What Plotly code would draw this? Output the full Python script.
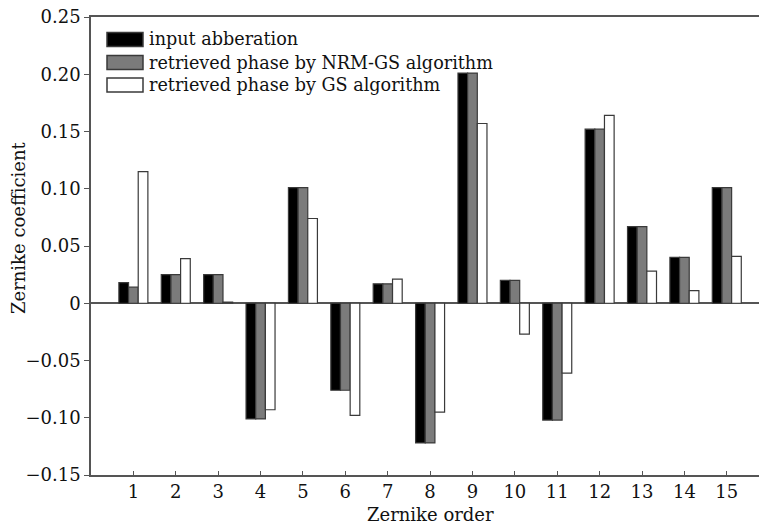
import plotly.graph_objects as go

orders = list(range(1, 16))
input_aberration = [0.018, 0.025, 0.025, -0.101, 0.101, -0.076, 0.017, -0.122, 0.201, 0.020, -0.102, 0.152, 0.067, 0.040, 0.101]
nrm_gs = [0.014, 0.025, 0.025, -0.101, 0.101, -0.076, 0.017, -0.122, 0.201, 0.020, -0.102, 0.152, 0.067, 0.040, 0.101]
gs = [0.115, 0.039, 0.001, -0.093, 0.074, -0.098, 0.021, -0.095, 0.157, -0.027, -0.061, 0.164, 0.028, 0.011, 0.041]

series_names = ["input abberation", "retrieved phase by NRM-GS algorithm", "retrieved phase by GS algorithm"]
series_colors = ["#000000", "#7b7b7b", "#ffffff"]

y_tickvals = [0.25, 0.20, 0.15, 0.10, 0.05, 0, -0.05, -0.10, -0.15]
y_ticktext = ["0.25", "0.20", "0.15", "0.10", "0.05", "0", "\u22120.05", "\u22120.10", "\u22120.15"]

FONT = "DejaVu Serif"
W, H = 759, 525
L, R, T, B = 91, 0, 17, 50
PW = W - L - R
PH = H - T - B

fig = go.Figure()
for name, vals, col in zip(series_names, [input_aberration, nrm_gs, gs], series_colors):
    fig.add_trace(go.Bar(
        x=orders, y=vals, name=name,
        marker=dict(color=col, line=dict(color="#3a3a3a", width=1.2)),
        showlegend=False,
    ))

def px_x(px):
    return (px - L) / PW

def px_y(py):
    return (H - B - py) / PH

shapes = []
annotations = []
row_centers = [39.5, 62.5, 85]
for i, (name, col) in enumerate(zip(series_names, series_colors)):
    cy = row_centers[i]
    shapes.append(dict(type="rect", xref="paper", yref="paper",
                       x0=px_x(107), x1=px_x(143), y0=px_y(cy + 7), y1=px_y(cy - 7),
                       fillcolor=col, line=dict(color="#3a3a3a", width=1.5)))
    annotations.append(dict(xref="paper", yref="paper", x=px_x(147), y=px_y(cy),
                            text=name, showarrow=False, xanchor="left", yanchor="middle",
                            font=dict(family=FONT, size=17.6, color="#111")))

annotations.append(dict(xref="x", yref="paper", x=8, y=px_y(514), text="Zernike order",
                        showarrow=False, xanchor="center", yanchor="middle",
                        font=dict(family=FONT, size=18, color="#111")))
annotations.append(dict(xref="paper", yref="paper", x=px_x(18), y=px_y(228), text="Zernike coefficient",
                        showarrow=False, xanchor="center", yanchor="middle", textangle=-90,
                        font=dict(family=FONT, size=18, color="#111")))

fig.update_layout(
    width=W, height=H,
    margin=dict(l=L, r=R, t=T, b=B),
    paper_bgcolor="white", plot_bgcolor="white",
    barmode="group", bargap=0.316, bargroupgap=0,
    font=dict(family=FONT, size=17, color="#111"),
    shapes=shapes, annotations=annotations,
    xaxis=dict(range=[0, 15.76], tickvals=orders, ticktext=[str(o) for o in orders],
               showline=True, linecolor="#555", linewidth=1.5, mirror=True,
               ticks="inside", ticklen=4, tickcolor="#555", showgrid=False, zeroline=False,
               tickfont=dict(family=FONT, size=18, color="#111")),
    yaxis=dict(range=[-0.15, 0.25], tickvals=y_tickvals, ticktext=y_ticktext,
               showline=True, linecolor="#555", linewidth=1.5, mirror=False,
               ticks="outside", ticklen=5, tickcolor="#555", showgrid=False,
               zeroline=True, zerolinecolor="#555", zerolinewidth=1.5,
               tickfont=dict(family=FONT, size=18, color="#111")),
)

fig.write_html("out.html")
